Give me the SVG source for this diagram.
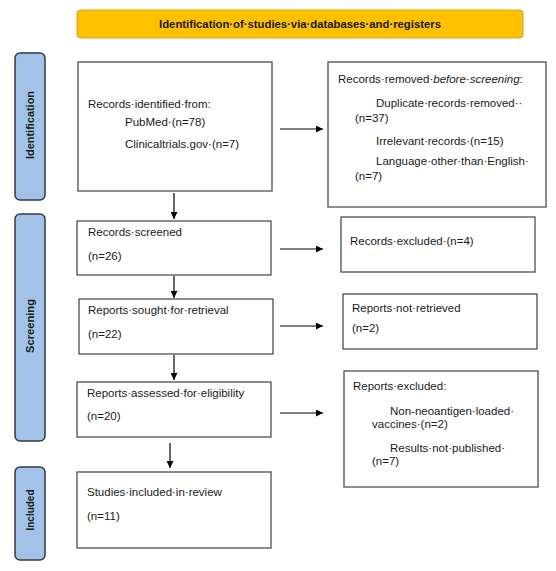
<svg xmlns="http://www.w3.org/2000/svg" width="556" height="571" viewBox="0 0 556 571">
<defs>
<marker id="ah" viewBox="0 0 10 10" refX="10" refY="5" markerWidth="7" markerHeight="7" orient="auto" markerUnits="userSpaceOnUse">
<path d="M0,0 L10,5 L0,10 z" fill="#000"/>
</marker>
<style>
.box{fill:#fff;stroke:#404040;stroke-width:1.2}
.side{fill:#a2c3e7;stroke:#333a44;stroke-width:1.5}
.t{font-family:"Liberation Sans",Arial,sans-serif;font-size:11.5px;fill:#1a1a1a}
.sl{font-family:"Liberation Sans",Arial,sans-serif;font-size:11.5px;font-weight:bold;fill:#1a1a1a}
.hd{font-family:"Liberation Sans",Arial,sans-serif;font-size:11.3px;font-weight:bold;fill:#1a1a1a}
.c{stroke:#000;stroke-width:1.2;fill:none;marker-end:url(#ah)}
</style>
</defs>
<rect width="556" height="571" fill="#fff"/>
<g id="header">
<rect x="77" y="10" width="446" height="28" rx="4" fill="#ffc000" stroke="#d4a520" stroke-width="1"/>
<text class="hd" x="300" y="28" text-anchor="middle">Identification·of·studies·via·databases·and·registers</text>
</g>
<g id="phase-identification">
<rect class="side" x="15" y="53" width="30" height="147" rx="5"/>
<text class="sl" transform="translate(34,125) rotate(-90)" text-anchor="middle" textLength="68" lengthAdjust="spacingAndGlyphs">Identification</text>
</g>
<g id="phase-screening">
<rect class="side" x="15" y="214" width="30" height="227" rx="5"/>
<text class="sl" transform="translate(34,326) rotate(-90)" text-anchor="middle" textLength="54" lengthAdjust="spacingAndGlyphs">Screening</text>
</g>
<g id="phase-included">
<rect class="side" x="15" y="467" width="30" height="93" rx="5"/>
<text class="sl" transform="translate(34,510) rotate(-90)" text-anchor="middle" textLength="41" lengthAdjust="spacingAndGlyphs">Included</text>
</g>
<g id="identified">
<rect class="box" x="78" y="62" width="194" height="129"/>
<text class="t" x="88" y="108">Records·identified·from:</text>
<text class="t" x="125" y="126">PubMed·(n=78)</text>
<text class="t" x="125" y="148">Clinicaltrials.gov·(n=7)</text>
</g>
<g id="removed">
<rect class="box" x="328" y="62" width="218" height="145"/>
<text class="t" x="338" y="83">Records·removed·<tspan font-style="italic">before·screening</tspan>:</text>
<text class="t" x="376" y="107">Duplicate·records·removed··</text>
<text class="t" x="355" y="122">(n=37)</text>
<text class="t" x="376" y="145">Irrelevant·records·(n=15)</text>
<text class="t" x="376" y="165">Language·other·than·English·</text>
<text class="t" x="355" y="180">(n=7)</text>
</g>
<g id="screened">
<rect class="box" x="77" y="221" width="194" height="54"/>
<text class="t" x="88" y="236">Records·screened</text>
<text class="t" x="88" y="260">(n=26)</text>
</g>
<g id="excluded">
<rect class="box" x="341" y="217" width="194" height="55"/>
<text class="t" x="350" y="245">Records·excluded·(n=4)</text>
</g>
<g id="sought">
<rect class="box" x="79" y="299" width="194" height="55"/>
<text class="t" x="88" y="314">Reports·sought·for·retrieval</text>
<text class="t" x="88" y="338">(n=22)</text>
</g>
<g id="notretrieved">
<rect class="box" x="343" y="294" width="194" height="55"/>
<text class="t" x="352" y="312">Reports·not·retrieved</text>
<text class="t" x="352" y="332">(n=2)</text>
</g>
<g id="assessed">
<rect class="box" x="77" y="382" width="194" height="55"/>
<text class="t" x="87" y="397">Reports·assessed·for·eligibility</text>
<text class="t" x="87" y="420">(n=20)</text>
</g>
<g id="reportsexcluded">
<rect class="box" x="344" y="371" width="194" height="116"/>
<text class="t" x="353" y="390">Reports·excluded:</text>
<text class="t" x="390" y="415">Non-neoantigen·loaded·</text>
<text class="t" x="372" y="428">vaccines·(n=2)</text>
<text class="t" x="390" y="452">Results·not·published·</text>
<text class="t" x="372" y="465">(n=7)</text>
</g>
<g id="included">
<rect class="box" x="77" y="472" width="194" height="76"/>
<text class="t" x="87" y="496">Studies·included·in·review</text>
<text class="t" x="87" y="520">(n=11)</text>
</g>
<g id="connectors">
<line class="c" x1="280" y1="129" x2="323" y2="129"/>
<line class="c" x1="280" y1="249" x2="323" y2="249"/>
<line class="c" x1="280" y1="326" x2="323" y2="326"/>
<line class="c" x1="280" y1="413" x2="323" y2="413"/>
<line class="c" x1="174" y1="193" x2="174" y2="219"/>
<line class="c" x1="174" y1="276" x2="174" y2="298"/>
<line class="c" x1="174" y1="355" x2="174" y2="380"/>
<line class="c" x1="170" y1="443" x2="170" y2="468"/>
</g>
</svg>
